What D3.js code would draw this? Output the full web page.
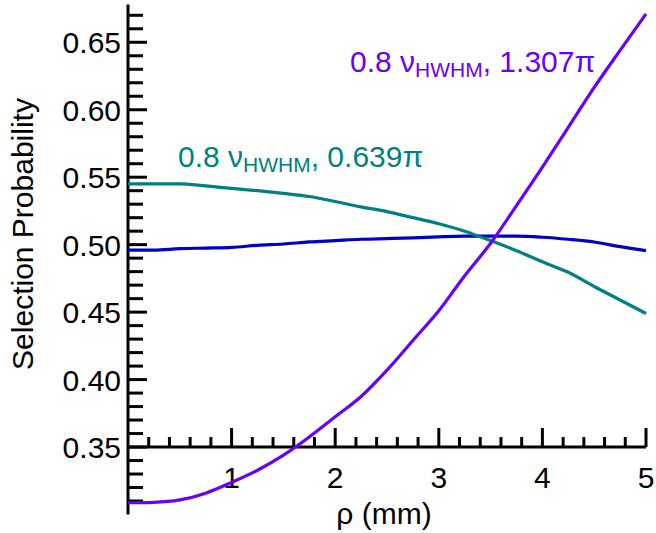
<!DOCTYPE html>
<html>
<head>
<meta charset="utf-8">
<script src="https://d3js.org/d3.v7.min.js"></script>
<style>
  body { margin: 0; background: #fff; }
  text { font-family: "Liberation Sans", Arial, Helvetica, sans-serif; fill: #000; }
</style>
</head>
<body>
<div id="chart"></div>
<script>
// rho grid (mm) shared by all three curves
var rho = [0, 0.25, 0.5, 0.75, 1, 1.25, 1.5, 1.75, 2, 2.25, 2.5, 2.75, 3, 3.25, 3.5, 3.75, 4, 4.25, 4.5, 4.75, 5];

// selection probability
var purpleVals = [0.3087, 0.309, 0.3108, 0.3158, 0.3238, 0.3328, 0.344, 0.3575, 0.3725, 0.3875, 0.407, 0.429, 0.451, 0.477, 0.501, 0.529, 0.5575, 0.587, 0.6165, 0.644, 0.671];
var tealVals = [0.545, 0.545, 0.545, 0.5435, 0.5417, 0.54, 0.538, 0.5357, 0.532, 0.528, 0.5245, 0.52, 0.5155, 0.51, 0.503, 0.4955, 0.4873, 0.4795, 0.469, 0.459, 0.449];
var blueVals = [0.496, 0.496, 0.497, 0.4975, 0.498, 0.4995, 0.5005, 0.502, 0.503, 0.504, 0.5045, 0.505, 0.5058, 0.5063, 0.5063, 0.5063, 0.5055, 0.504, 0.502, 0.4985, 0.4956];

// tick labels
var xTickLabels = [1, 2, 3, 4, 5];
var yTickLabels = [0.35, 0.4, 0.45, 0.5, 0.55, 0.6, 0.65];

// annotation pieces: before subscript, subscript, after subscript
var purpleLabel = ["0.8 \u03bd", "HWHM", ", 1.307\u03c0"];
var tealLabel = ["0.8 \u03bd", "HWHM", ", 0.639\u03c0"];

var width = 656,
  height = 533;

var svg = d3
  .select("#chart")
  .append("svg")
  .attr("width", width)
  .attr("height", height);

var x = d3.scaleLinear().domain([0, 5]).range([128, 646]);
var y = d3.scaleLinear().domain([0.3, 0.678]).range([514.5, 4.5]);

// y axis line + ticks pointing right
svg
  .append("line")
  .attr("x1", x(0))
  .attr("x2", x(0))
  .attr("y1", y(0.678))
  .attr("y2", y(0.3))
  .attr("stroke", "#000")
  .attr("stroke-width", 3);

var yMinor = d3.range(31, 68).map(function (d) {
  return d / 100;
});
svg
  .append("g")
  .selectAll("line")
  .data(yMinor)
  .enter()
  .append("line")
  .attr("x1", x(0))
  .attr("x2", function (d) {
    return x(0) + (Math.round(d * 100) % 5 === 0 ? 19 : 15);
  })
  .attr("y1", function (d) {
    return y(d);
  })
  .attr("y2", function (d) {
    return y(d);
  })
  .attr("stroke", "#000")
  .attr("stroke-width", 3);

svg
  .append("g")
  .selectAll("text")
  .data(yTickLabels)
  .enter()
  .append("text")
  .attr("x", 121)
  .attr("y", function (d) {
    return y(d) + 11;
  })
  .attr("text-anchor", "end")
  .style("font-size", "30px")
  .text(function (d) {
    return d.toFixed(2);
  });

// x axis sits at 0.35, ticks pointing up
svg
  .append("line")
  .attr("x1", x(0))
  .attr("x2", x(5))
  .attr("y1", y(0.35))
  .attr("y2", y(0.35))
  .attr("stroke", "#000")
  .attr("stroke-width", 3);

var xMinor = d3.range(1, 26).map(function (d) {
  return d / 5;
});
svg
  .append("g")
  .selectAll("line")
  .data(xMinor)
  .enter()
  .append("line")
  .attr("x1", function (d) {
    return x(d);
  })
  .attr("x2", function (d) {
    return x(d);
  })
  .attr("y1", y(0.35))
  .attr("y2", function (d) {
    return y(0.35) - (Math.abs(d - Math.round(d)) < 1e-6 ? 19 : 10);
  })
  .attr("stroke", "#000")
  .attr("stroke-width", 3);

svg
  .append("g")
  .selectAll("text")
  .data(xTickLabels)
  .enter()
  .append("text")
  .attr("x", function (d) {
    return x(d);
  })
  .attr("y", 488)
  .attr("text-anchor", "middle")
  .style("font-size", "30px")
  .text(function (d) {
    return d;
  });

// axis titles
svg
  .append("text")
  .attr("x", 384)
  .attr("y", 524)
  .attr("text-anchor", "middle")
  .style("font-size", "30px")
  .text("\u03c1 (mm)");

svg
  .append("text")
  .attr("transform", "translate(33,234) rotate(-90)")
  .attr("text-anchor", "middle")
  .style("font-size", "30px")
  .text("Selection Probability");

// curves
var series = [
  { vals: blueVals, color: "#0000c8" },
  { vals: tealVals, color: "#008080" },
  { vals: purpleVals, color: "#6600ff" },
];

var line = d3
  .line()
  .x(function (d) {
    return x(d[0]);
  })
  .y(function (d) {
    return y(d[1]);
  })
  .curve(d3.curveMonotoneX);

svg
  .append("g")
  .selectAll("path")
  .data(series)
  .enter()
  .append("path")
  .attr("fill", "none")
  .attr("stroke", function (d) {
    return d.color;
  })
  .attr("stroke-width", 3.2)
  .attr("stroke-linejoin", "round")
  .attr("d", function (d) {
    return line(
      rho.map(function (r, i) {
        return [r, d.vals[i]];
      })
    );
  });

// annotations with HWHM subscript
function addLabel(parts, px, py, color) {
  var t = svg
    .append("text")
    .attr("x", px)
    .attr("y", py)
    .style("font-size", "30px")
    .style("fill", color);
  t.append("tspan").text(parts[0]);
  t.append("tspan").attr("dy", 5).style("font-size", "21px").text(parts[1]);
  t.append("tspan").attr("dy", -5).text(parts[2]);
}

addLabel(purpleLabel, 350, 72, "#6600ff");
addLabel(tealLabel, 178, 167, "#008080");
</script>
</body>
</html>
